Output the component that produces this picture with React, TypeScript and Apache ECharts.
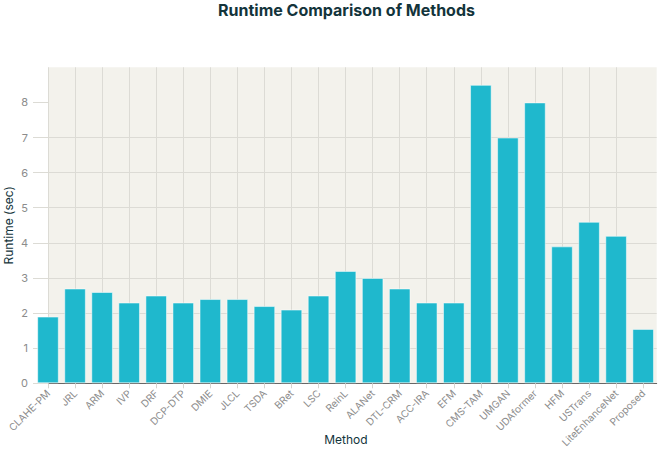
import React, { useEffect, useRef } from "react";
import * as echarts from "echarts";

const methods = [
  "CLAHE-PM", "JRL", "ARM", "IVP", "DRF", "DCP-DTP", "DMIE", "JLCL", "TSDA", "BRet", "LSC",
  "ReinL", "ALANet", "DTL-CRM", "ACC-IRA", "EFM", "CMS-TAM", "UMGAN", "UDAformer", "HFM",
  "USTrans", "LiteEnhanceNet", "Proposed",
];
const runtimes = [
  1.9, 2.7, 2.6, 2.3, 2.5, 2.3, 2.4, 2.4, 2.2, 2.1, 2.5,
  3.2, 3.0, 2.7, 2.3, 2.3, 8.5, 7.0, 8.0, 3.9,
  4.6, 4.2, 1.55,
];
const yTicks = [0, 1, 2, 3, 4, 5, 6, 7, 8];

const FONT = 'Inter, "Noto Sans", "DejaVu Sans", sans-serif';

export default function App() {
  const ref = useRef<HTMLDivElement>(null);
  useEffect(() => {
    if (!ref.current) return;
    const chart = echarts.init(ref.current, undefined, { renderer: "svg" });
    const xIdx = methods.map((_, i) => i);
    chart.setOption({
      animation: false,
      backgroundColor: "#ffffff",
      title: {
        text: "Runtime Comparison of Methods",
        left: 218,
        top: 2,
        padding: 0,
        textStyle: { fontFamily: FONT, fontSize: 16, fontWeight: "bold", color: "#13343B" },
      },
      grid: {
        left: 48,
        right: 3.3,
        top: 67.3,
        bottom: 66.7,
        show: true,
        backgroundColor: "#F3F2EC",
        borderWidth: 0,
        containLabel: false,
        outerBoundsMode: "none",
      },
      xAxis: {
        type: "value",
        min: 0,
        max: 22.5,
        interval: 1,
        name: "Method",
        nameLocation: "middle",
        nameGap: 50,
        nameMoveOverlap: false,
        nameTextStyle: { fontFamily: FONT, fontSize: 12, color: "#13343B", padding: [0, 13, 0, 0] },
        axisLine: { show: true, lineStyle: { color: "#666666", width: 1 } },
        axisTick: {
          show: true,
          length: 5,
          customValues: xIdx,
          lineStyle: { color: "#d6d5cf" },
        },
        axisLabel: {
          customValues: xIdx,
          formatter: (v: number) => methods[Math.round(v)] ?? "",
          rotate: 45,
          margin: 8,
          fontFamily: FONT,
          fontSize: 10,
          color: "#8c8c8c",
        },
        splitLine: { show: true, showMaxLine: false, lineStyle: { color: "#dcdbd5", width: 1 } },
      },
      yAxis: {
        type: "value",
        min: 0,
        max: 9,
        interval: 1,
        name: "Runtime (sec)",
        nameLocation: "middle",
        nameGap: 34,
        nameMoveOverlap: false,
        nameTextStyle: { fontFamily: FONT, fontSize: 12, color: "#13343B" },
        axisLine: { show: false },
        axisTick: {
          show: true,
          length: 15,
          customValues: yTicks,
          lineStyle: { color: "#dcdbd5" },
        },
        axisLabel: {
          customValues: yTicks,
          margin: 20,
          fontFamily: FONT,
          fontSize: 11,
          color: "#8c8c8c",
        },
        splitLine: { show: true, showMaxLine: false, lineStyle: { color: "#dcdbd5", width: 1 } },
      },
      series: [
        {
          type: "bar",
          clip: false,
          barWidth: 21.6,
          data: runtimes.map((v, i) => [i, v]),
          itemStyle: {
            color: "#1FB8CD",
            borderColor: "rgba(255,255,255,0.5)",
            borderWidth: 1,
          },
        },
      ],
    });
    return () => chart.dispose();
  }, []);
  return (
    <div
      ref={ref}
      style={{ position: "fixed", left: 0, top: 0, width: 660, height: 450 }}
    />
  );
}
